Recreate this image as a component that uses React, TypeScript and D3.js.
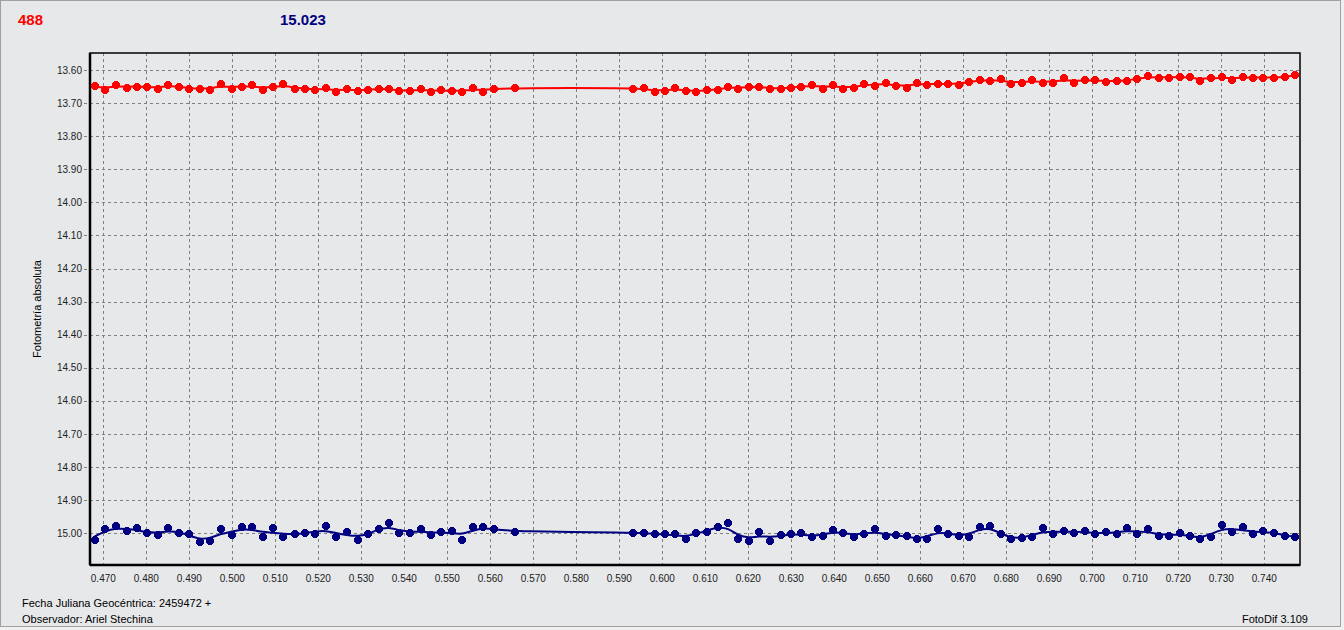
import * as d3 from "d3";
import React, { useEffect, useRef } from "react";

// JD fraction (2459472 +) of each exposure
const jdTimes = [
  0.4680, 0.4703, 0.4730, 0.4755, 0.4778, 0.4802, 0.4827, 0.4850, 0.4876, 0.4899,
  0.4925, 0.4948, 0.4974, 0.4999, 0.5023, 0.5046, 0.5071, 0.5094, 0.5119, 0.5146,
  0.5169, 0.5192, 0.5217, 0.5241, 0.5266, 0.5292, 0.5315, 0.5340, 0.5364, 0.5388,
  0.5413, 0.5438, 0.5461, 0.5485, 0.5510, 0.5534, 0.5560, 0.5584, 0.5609, 0.5657,
  0.5931, 0.5957, 0.5982, 0.6006, 0.6030, 0.6055, 0.6078, 0.6103, 0.6129, 0.6153,
  0.6176, 0.6201, 0.6224, 0.6250, 0.6275, 0.6299, 0.6323, 0.6348, 0.6373, 0.6396,
  0.6421, 0.6445, 0.6469, 0.6494, 0.6520, 0.6544, 0.6568, 0.6592, 0.6615, 0.6640,
  0.6664, 0.6690, 0.6713, 0.6739, 0.6762, 0.6787, 0.6810, 0.6836, 0.6860, 0.6885,
  0.6909, 0.6934, 0.6957, 0.6982, 0.7006, 0.7032, 0.7057, 0.7081, 0.7104, 0.7130,
  0.7154, 0.7178, 0.7204, 0.7227, 0.7251, 0.7275, 0.7301, 0.7324, 0.7350, 0.7373,
  0.7398, 0.7423, 0.7448, 0.7471,
];

// variable star (red)
const varMags = [
  13.647, 13.660, 13.644, 13.653, 13.650, 13.650, 13.657, 13.644, 13.650, 13.656,
  13.656, 13.660, 13.642, 13.656, 13.650, 13.644, 13.660, 13.650, 13.642, 13.656,
  13.656, 13.660, 13.653, 13.666, 13.656, 13.663, 13.660, 13.656, 13.656, 13.663,
  13.664, 13.656, 13.666, 13.660, 13.663, 13.666, 13.653, 13.666, 13.656, 13.653,
  13.656, 13.653, 13.666, 13.663, 13.653, 13.663, 13.666, 13.660, 13.660, 13.650,
  13.656, 13.650, 13.650, 13.656, 13.656, 13.653, 13.650, 13.644, 13.656, 13.644,
  13.656, 13.653, 13.642, 13.647, 13.638, 13.647, 13.653, 13.638, 13.644, 13.642,
  13.642, 13.644, 13.635, 13.630, 13.633, 13.627, 13.641, 13.638, 13.630, 13.638,
  13.638, 13.624, 13.638, 13.630, 13.630, 13.635, 13.633, 13.633, 13.627, 13.618,
  13.623, 13.623, 13.620, 13.620, 13.633, 13.623, 13.620, 13.630, 13.620, 13.623,
  13.623, 13.623, 13.622, 13.614,
];

// check star (navy)
const chkMags = [
  15.020, 14.988, 14.979, 14.992, 14.985, 14.999, 15.005, 14.985, 14.998, 15.001,
  15.025, 15.023, 14.988, 15.005, 14.982, 14.982, 15.010, 14.985, 15.010, 15.002,
  14.998, 15.002, 14.977, 15.012, 14.995, 15.020, 15.002, 14.988, 14.970, 14.998,
  14.998, 14.988, 15.005, 14.995, 14.992, 15.020, 14.982, 14.982, 14.988, 14.995,
  15.000, 14.998, 15.003, 15.003, 15.003, 15.018, 14.998, 14.995, 14.980, 14.970,
  15.016, 15.023, 14.995, 15.022, 15.005, 15.003, 15.000, 15.012, 15.007, 14.990,
  14.998, 15.010, 15.002, 14.988, 15.008, 15.005, 15.008, 15.018, 15.018, 14.986,
  15.002, 15.008, 15.010, 14.982, 14.977, 15.003, 15.018, 15.013, 15.012, 14.985,
  15.002, 14.992, 14.998, 14.992, 15.003, 14.997, 15.002, 14.985, 15.002, 14.988,
  15.008, 15.008, 14.998, 15.008, 15.018, 15.010, 14.974, 14.995, 14.982, 15.003,
  14.992, 14.998, 15.007, 15.012,
];

const xTicks = d3.range(0.47, 0.7401, 0.01);
const yTicks = d3.range(13.6, 15.0001, 0.1);

const W = 1344;
const H = 630;

// weighted running mean 1-2-1
const smooth = (v: number[]) =>
  v.map((_, i) => {
    let s = 0;
    let w = 0;
    for (let k = -1; k <= 1; k++) {
      const j = i + k;
      if (j < 0 || j >= v.length) continue;
      const wt = k === 0 ? 2 : 1;
      s += v[j] * wt;
      w += wt;
    }
    return s / w;
  });

// blocky marker like the original app draws
const markerPath =
  "M-2,-4H2V-3H3V-2H4V2H3V3H2V4H-2V3H-3V2H-4V-2H-3V-3H-2Z";

const App: React.FC = () => {
  const svgRef = useRef<SVGSVGElement | null>(null);

  useEffect(() => {
    if (!svgRef.current) return;
    const svg = d3.select(svgRef.current);
    svg.selectAll("*").remove();

    const plot = { left: 90, right: 1300, top: 53, bottom: 565 };
    const font = "'Liberation Sans', Arial, sans-serif";

    const x = d3.scaleLinear().domain([0.4669, 0.7483]).range([plot.left, plot.right]);
    const y = d3.scaleLinear().domain([13.5486, 15.0958]).range([plot.top, plot.bottom]);

    // frame
    svg.append("rect").attr("width", W).attr("height", H).attr("fill", "#f0f0f0");
    svg
      .append("rect")
      .attr("x", 0.5)
      .attr("y", 0.5)
      .attr("width", 1340)
      .attr("height", 626)
      .attr("fill", "#e7e8ea")
      .attr("stroke", "#a0a0a0");

    // === Gridlines ===
    svg
      .append("g")
      .selectAll("line")
      .data(xTicks)
      .enter()
      .append("line")
      .attr("x1", (d) => Math.round(x(d)) + 0.5)
      .attr("x2", (d) => Math.round(x(d)) + 0.5)
      .attr("y1", plot.top)
      .attr("y2", plot.bottom + 4)
      .attr("stroke", "#808080")
      .attr("stroke-dasharray", "3,3");

    svg
      .append("g")
      .selectAll("line")
      .data(yTicks)
      .enter()
      .append("line")
      .attr("x1", plot.left - 6)
      .attr("x2", plot.right)
      .attr("y1", (d) => Math.round(y(d)) + 0.5)
      .attr("y2", (d) => Math.round(y(d)) + 0.5)
      .attr("stroke", "#808080")
      .attr("stroke-dasharray", "3,3");

    // === Plot border ===
    svg
      .append("rect")
      .attr("x", plot.left)
      .attr("y", plot.top)
      .attr("width", plot.right - plot.left)
      .attr("height", plot.bottom - plot.top)
      .attr("fill", "none")
      .attr("stroke", "#000")
      .attr("stroke-width", 1.5);
    svg
      .append("line")
      .attr("x1", plot.left)
      .attr("x2", plot.left)
      .attr("y1", plot.top)
      .attr("y2", plot.bottom)
      .attr("stroke", "#000")
      .attr("stroke-width", 2.5);
    svg
      .append("line")
      .attr("x1", plot.left)
      .attr("x2", plot.right)
      .attr("y1", plot.bottom)
      .attr("y2", plot.bottom)
      .attr("stroke", "#000")
      .attr("stroke-width", 2.5);

    // === Tick labels ===
    svg
      .append("g")
      .selectAll("text")
      .data(yTicks)
      .enter()
      .append("text")
      .attr("x", 82)
      .attr("y", (d) => y(d) + 3.5)
      .attr("text-anchor", "end")
      .attr("font-family", font)
      .attr("font-size", "10px")
      .attr("fill", "#222")
      .text((d) => d3.format(".2f")(d));

    svg
      .append("g")
      .selectAll("text")
      .data(xTicks)
      .enter()
      .append("text")
      .attr("x", (d) => x(d))
      .attr("y", 582)
      .attr("text-anchor", "middle")
      .attr("font-family", font)
      .attr("font-size", "10px")
      .attr("fill", "#222")
      .text((d) => d3.format(".3f")(d));

    // === Series ===
    const series = [
      { mags: varMags, color: "#ff0000" },
      { mags: chkMags, color: "#000080" },
    ];

    series.forEach((s) => {
      const sm = smooth(s.mags);
      const line = d3
        .line<number>()
        .x((_, i) => x(jdTimes[i]))
        .y((d) => y(d))
        .curve(d3.curveBasis);
      svg
        .append("path")
        .datum(sm)
        .attr("fill", "none")
        .attr("stroke", s.color)
        .attr("stroke-width", 2)
        .attr("d", line);

      svg
        .append("g")
        .selectAll("path")
        .data(s.mags)
        .enter()
        .append("path")
        .attr("transform", (d, i) => `translate(${Math.round(x(jdTimes[i]))},${Math.round(y(d))})`)
        .attr("d", markerPath)
        .attr("fill", s.color);
    });

    // === Titles & labels ===
    svg
      .append("text")
      .attr("x", 18)
      .attr("y", 25)
      .attr("font-family", font)
      .attr("font-size", "15px")
      .attr("font-weight", "bold")
      .attr("fill", "#ff0000")
      .text("488");
    svg
      .append("text")
      .attr("x", 280)
      .attr("y", 25)
      .attr("font-family", font)
      .attr("font-size", "15px")
      .attr("font-weight", "bold")
      .attr("fill", "#000080")
      .text("15.023");

    svg
      .append("text")
      .attr("transform", `translate(41,${(plot.top + plot.bottom) / 2}) rotate(-90)`)
      .attr("text-anchor", "middle")
      .attr("font-family", font)
      .attr("font-size", "11px")
      .attr("fill", "#000")
      .text("Fotometría absoluta");

    svg
      .append("text")
      .attr("x", 22)
      .attr("y", 607)
      .attr("font-family", font)
      .attr("font-size", "11px")
      .attr("fill", "#000")
      .text("Fecha Juliana Geocéntrica: 2459472 +");
    svg
      .append("text")
      .attr("x", 22)
      .attr("y", 623)
      .attr("font-family", font)
      .attr("font-size", "11px")
      .attr("fill", "#000")
      .text("Observador: Ariel Stechina");
    svg
      .append("text")
      .attr("x", 1308)
      .attr("y", 623)
      .attr("text-anchor", "end")
      .attr("font-family", font)
      .attr("font-size", "11px")
      .attr("fill", "#000")
      .text("FotoDif 3.109");
  }, []);

  return (
    <svg
      ref={svgRef}
      width={W}
      height={H}
      style={{ position: "absolute", left: 0, top: 0, display: "block" }}
    ></svg>
  );
};

export default App;
